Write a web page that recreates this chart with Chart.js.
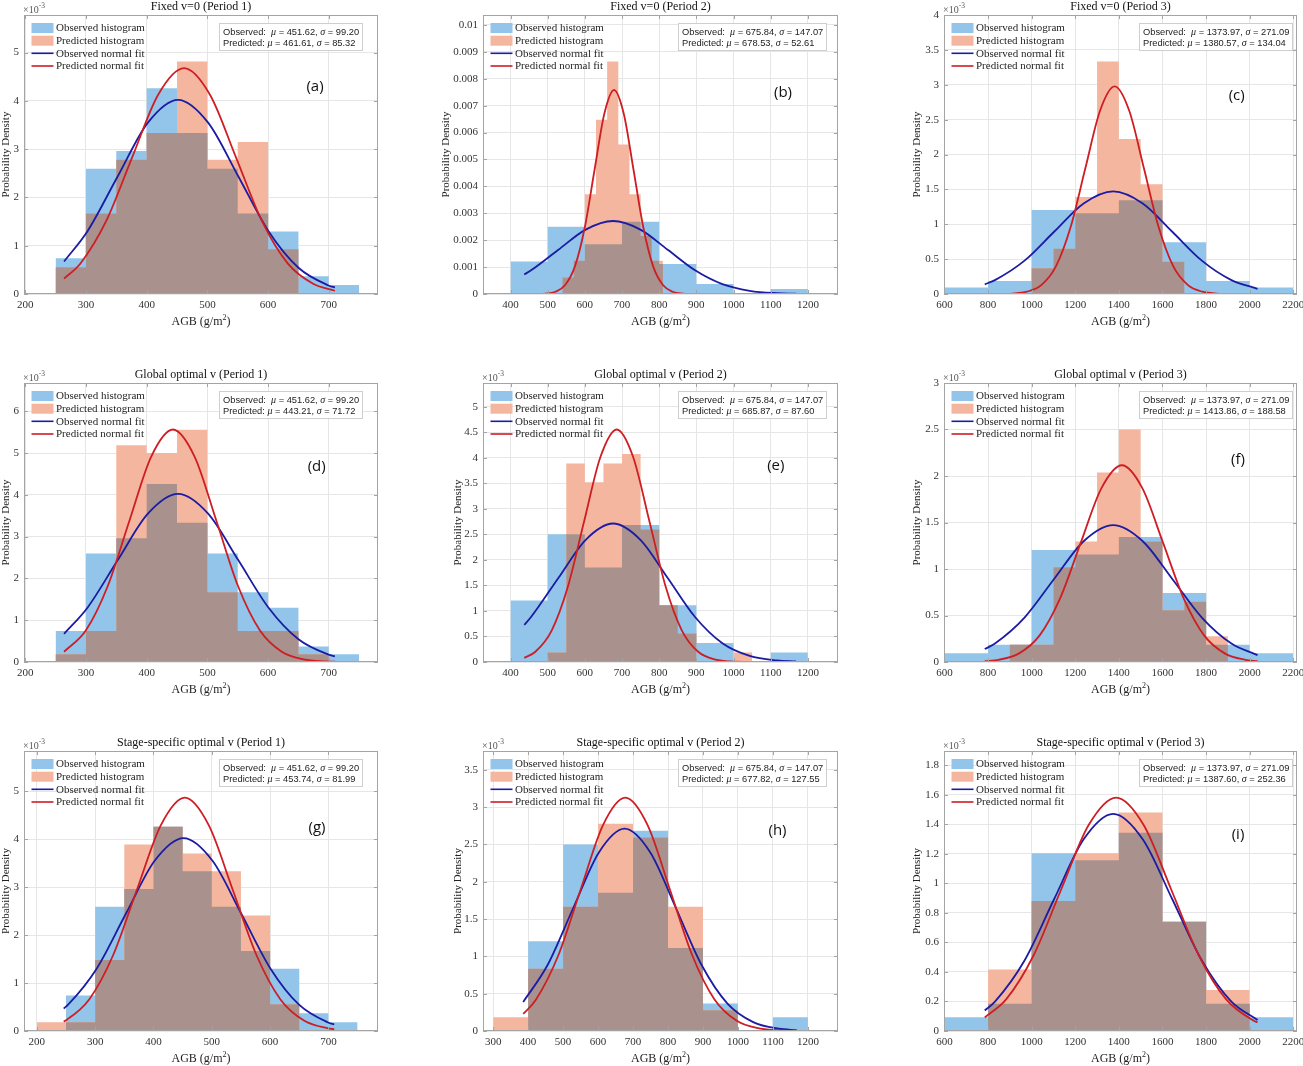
<!DOCTYPE html>
<html><head><meta charset="utf-8">
<script src="https://cdn.jsdelivr.net/npm/chart.js@4.4.0/dist/chart.umd.min.js"></script>
<style>
html,body{margin:0;padding:0;background:#fff;}
#wrap{position:relative;width:1303px;height:1066px;overflow:hidden;background:#fff;}
canvas{position:absolute;}
</style></head><body><div id="wrap"></div>
<script>
// ================= DATA =================
const schemeTitles = ['Fixed v=0', 'Global optimal v', 'Stage-specific optimal v'];
const periodNames = ['Period 1', 'Period 2', 'Period 3'];
const panelLetters = ['(a)', '(b)', '(c)', '(d)', '(e)', '(f)', '(g)', '(h)', '(i)'];
const legendLabels = ['Observed histogram', 'Predicted histogram', 'Observed normal fit', 'Predicted normal fit'];

// Observed histograms (probability density, x10^-3)
const obsEdgesP1 = [250, 300, 350, 400, 450, 500, 550, 600, 650, 700, 750];
const obsDensP1  = [0.741, 2.593, 2.963, 4.259, 3.333, 2.593, 1.667, 1.296, 0.370, 0.185];
const obsEdgesP2 = [400, 500, 600, 700, 800, 900, 1000, 1100, 1200];
const obsDensP2  = [1.204, 2.500, 1.852, 2.685, 1.111, 0.370, 0, 0.185];
const obsEdgesP3 = [600, 800, 1000, 1200, 1400, 1600, 1800, 2000, 2200];
const obsDensP3  = [0.093, 0.185, 1.204, 1.157, 1.343, 0.741, 0.185, 0.093];

// Predicted histograms (x10^-3)
const predEdgesA = [250, 300, 350, 400, 450, 500, 550, 600, 650];
const predDensA  = [0.556, 1.667, 2.778, 3.333, 4.815, 2.778, 3.148, 0.926];
const predEdgesB = [540, 570, 600, 630, 660, 690, 720, 750, 780, 810];
const predDensB  = [0.617, 1.235, 3.704, 6.481, 8.642, 5.556, 3.704, 2.160, 1.235];
const predEdgesC = [1000, 1100, 1200, 1300, 1400, 1500, 1600, 1700];
const predDensC  = [0.370, 0.648, 1.389, 3.333, 2.222, 1.574, 0.463];
const predEdgesD = [250, 300, 350, 400, 450, 500, 550, 600, 650, 700];
const predDensD  = [0.185, 0.741, 5.185, 5.000, 5.556, 1.667, 0.741, 0.741, 0.185];
const predEdgesE = [500, 550, 600, 650, 700, 750, 800, 850, 900, 950, 1000, 1050];
const predDensE  = [0.185, 3.889, 3.519, 3.889, 4.074, 2.593, 1.111, 0.556, 0, 0, 0.185];
const predEdgesF = [900, 1000, 1100, 1200, 1300, 1400, 1500, 1600, 1700, 1800, 1900];
const predDensF  = [0.185, 0.185, 1.019, 1.296, 2.037, 2.500, 1.296, 0.556, 0.648, 0.278];
const predEdgesG = [200, 250, 300, 350, 400, 450, 500, 550, 600, 650];
const predDensG  = [0.185, 0.185, 1.481, 3.889, 4.259, 3.704, 3.333, 2.407, 0.556];
const predEdgesH = [300, 400, 500, 600, 700, 800, 900, 1000];
const predDensH  = [0.185, 0.833, 1.667, 2.778, 2.593, 1.667, 0.278];
const predEdgesI = [800, 1000, 1200, 1400, 1600, 1800, 2000];
const predDensI  = [0.417, 0.880, 1.204, 1.481, 0.741, 0.278];

// Normal-fit curves read as [AGB, density x10^-3]
const fitObsAD = [[264,0.6725],[302.82,1.3056],[352.42,2.4392],[402.02,3.5490],[451.62,4.0216],[501.22,3.5490],[550.82,2.4392],[600.42,1.3056],[650.02,0.5443],[699.62,0.1767],[710,0.1353]];
const fitObsG  = [[246,0.4694],[253.22,0.5443],[302.82,1.3056],[352.42,2.4392],[402.02,3.5490],[451.62,4.0216],[501.22,3.5490],[550.82,2.4392],[600.42,1.3056],[650.02,0.5443],[699.62,0.1767],[710,0.1353]];
const fitPredA = [[264,0.3199],[290.97,0.6328],[333.63,1.5180],[376.29,2.8360],[418.95,4.1264],[461.61,4.6759],[504.27,4.1264],[546.93,2.8360],[589.59,1.5180],[632.25,0.6328],[674.91,0.2054],[710,0.0675]];
const fitPredD = [[264,0.2452],[299.77,0.7528],[335.63,1.8059],[371.49,3.3738],[407.35,4.9089],[443.21,5.5625],[479.07,4.9089],[514.93,3.3738],[550.79,1.8059],[586.65,0.7528],[622.51,0.2444],[658.37,0.0618],[694.23,0.0122],[710,0.0055]];
const fitPredG = [[246,0.1964],[248.77,0.2138],[289.76,0.6585],[330.76,1.5797],[371.75,2.9512],[412.75,4.2940],[453.74,4.8658],[494.74,4.2940],[535.73,2.9512],[576.73,1.5797],[617.72,0.6585],[658.72,0.2138],[699.71,0.0541],[710,0.0368]];
const fitObsBE = [[437,0.7256],[455.24,0.8807],[528.77,1.6453],[602.31,2.3939],[675.84,2.7126],[749.38,2.3939],[822.91,1.6453],[896.45,0.8807],[969.98,0.3671],[1043.52,0.1192],[1117.05,0.0301],[1168,0.0100]];
const fitObsH  = [[386,0.3891],[455.24,0.8807],[528.77,1.6453],[602.31,2.3939],[675.84,2.7126],[749.38,2.3939],[822.91,1.6453],[896.45,0.8807],[969.98,0.3671],[1043.52,0.1192],[1117.05,0.0301],[1168,0.0100]];
const fitPredB = [[437,0.0002],[468.09,0.0025],[494.40,0.0166],[520.70,0.0842],[547.01,0.3332],[573.31,1.0263],[599.62,2.4618],[625.92,4.5993],[652.23,6.6920],[678.53,7.5830],[704.84,6.6920],[731.14,4.5993],[757.45,2.4618],[783.75,1.0263],[810.06,0.3332],[836.36,0.0842],[862.67,0.0166],[888.97,0.0025],[915.28,0.0003],[1168,0]];
const fitPredE = [[437,0.0805],[466.87,0.2001],[510.67,0.6163],[554.47,1.4785],[598.27,2.7622],[642.07,4.0190],[685.87,4.5541],[729.67,4.0190],[773.47,2.7622],[817.27,1.4785],[861.07,0.6163],[904.87,0.2001],[948.67,0.0506],[992.47,0.0100],[1036.27,0.0015],[1080.07,0.0002],[1168,0]];
const fitPredH = [[386,0.2284],[422.72,0.4233],[486.50,1.0154],[550.27,1.8971],[614.05,2.7602],[677.82,3.1277],[741.60,2.7602],[805.37,1.8971],[869.15,1.0154],[932.92,0.4233],[996.70,0.1374],[1060.47,0.0348],[1124.25,0.0068],[1168,0.0019]];
const fitObsCFI = [[785,0.1389],[831.79,0.1992],[967.34,0.4778],[1102.88,0.8926],[1238.43,1.2987],[1373.97,1.4716],[1509.52,1.2987],[1645.06,0.8926],[1780.61,0.4778],[1916.15,0.1992],[2036,0.0746]];
const fitPredC = [[785,0.0002],[844.41,0.0010],[911.43,0.0065],[978.45,0.0331],[1045.47,0.1308],[1112.49,0.4028],[1179.51,0.9663],[1246.53,1.8052],[1313.55,2.6266],[1380.57,2.9763],[1447.59,2.6266],[1514.61,1.8052],[1581.63,0.9663],[1648.65,0.4028],[1715.67,0.1308],[1782.69,0.0331],[1849.71,0.0065],[1916.73,0.0010],[1983.75,0.0001],[2036,0]];
const fitPredF = [[785,0.0081],[848.12,0.0235],[942.41,0.0929],[1036.70,0.2863],[1130.99,0.6868],[1225.28,1.2831],[1319.57,1.8669],[1413.86,2.1155],[1508.15,1.8669],[1602.44,1.2831],[1696.73,0.6868],[1791.02,0.2863],[1885.31,0.0929],[1979.60,0.0235],[2036,0.0092]];
const fitPredI = [[785,0.0914],[882.88,0.2139],[1009.06,0.5132],[1135.24,0.9588],[1261.42,1.3951],[1387.60,1.5808],[1513.78,1.3951],[1639.96,0.9588],[1766.14,0.5132],[1892.32,0.2139],[2018.50,0.0695],[2036,0.0583]];

// Statistics shown in the text boxes
const obsMu    = [451.62, 675.84, 1373.97];
const obsSigma = [99.20, 147.07, 271.09];
const predMu    = [461.61, 678.53, 1380.57, 443.21, 685.87, 1413.86, 453.74, 677.82, 1387.60];
const predSigma = [85.32, 52.61, 134.04, 71.72, 87.60, 188.58, 81.99, 127.55, 252.36];

// Axis limits and tick labels
const xLimits = [[198,781],[326,1281],[598,2217],[198,781],[326,1281],[598,2217],[178,785],[271,1286],[598,2217]];
const yLimits = [5.778, 10.37, 4.0, 6.675, 5.465, 3.0, 5.839, 3.753, 1.897];
const xTicksP1 = [200, 300, 400, 500, 600, 700];
const xTicksP2 = [400, 500, 600, 700, 800, 900, 1000, 1100, 1200];
const xTicksH  = [300, 400, 500, 600, 700, 800, 900, 1000, 1100, 1200];
const xTicksP3 = [600, 800, 1000, 1200, 1400, 1600, 1800, 2000, 2200];
const ySteps = [1, 1, 0.5, 1, 0.5, 0.5, 1, 0.5, 0.2];

// ================= LAYOUT / STYLE =================
const colL = [24, 483, 944], colR = [378, 838, 1297];
const rowT = [15, 383, 751], rowB = [294, 662, 1031];
const yLabelOff = [18, 36.6, 27, 18, 25, 27, 18, 25, 27];
const letterPos = [[291,71.5],[300,77.5],[292.7,80.8],[292.7,83.7],[292.8,82.8],[294,77],[293,77],[294.5,79.5],[294,83.5]];
const SERIF = '"Liberation Serif", "Times New Roman", serif';
const SANS = '"Liberation Sans", Arial, sans-serif';
const C_OBS = 'rgb(146,197,233)';
const C_PRED = 'rgb(244,182,158)';
const C_BOTH = 'rgb(169,146,141)';
const C_OBSFIT = '#1b1ba3';
const C_PREDFIT = '#cf1d24';
const C_AXIS = '#a4a4a4';

const obsSets = [[obsEdgesP1, obsDensP1], [obsEdgesP2, obsDensP2], [obsEdgesP3, obsDensP3]];
const predSets = [[predEdgesA, predDensA], [predEdgesB, predDensB], [predEdgesC, predDensC],
                  [predEdgesD, predDensD], [predEdgesE, predDensE], [predEdgesF, predDensF],
                  [predEdgesG, predDensG], [predEdgesH, predDensH], [predEdgesI, predDensI]];
const obsFits = [fitObsAD, fitObsBE, fitObsCFI, fitObsAD, fitObsBE, fitObsCFI, fitObsG, fitObsH, fitObsCFI];
const predFits = [fitPredA, fitPredB, fitPredC, fitPredD, fitPredE, fitPredF, fitPredG, fitPredH, fitPredI];
const xTickSets = [xTicksP1, xTicksP2, xTicksP3, xTicksP1, xTicksP2, xTicksP3, xTicksP1, xTicksH, xTicksP3];

function histPoints(edges, dens) {
  const pts = [{x: edges[0], y: 0}];
  dens.forEach((d, i) => pts.push({x: edges[i], y: d}));
  pts.push({x: edges[edges.length - 1], y: 0});
  return pts;
}
function valAt(edges, dens, x) {
  for (let i = 0; i < dens.length; i++) if (x >= edges[i] && x < edges[i + 1]) return dens[i];
  return 0;
}
function overlapPoints(oE, oD, pE, pD) {
  const u = Array.from(new Set(oE.concat(pE))).sort((a, b) => a - b);
  const dens = [];
  for (let j = 0; j < u.length - 1; j++) {
    const m = (u[j] + u[j + 1]) / 2;
    dens.push(Math.min(valAt(oE, oD, m), valAt(pE, pD, m)));
  }
  return histPoints(u, dens);
}
const toXY = arr => arr.map(p => ({x: p[0], y: p[1]}));

function drawRuns(ctx, x, y, parts, align) {
  let total = 0;
  parts.forEach(p => { ctx.font = p.f; p.w = ctx.measureText(p.t).width; total += p.w; });
  let cx = align === 'center' ? x - total / 2 : x;
  parts.forEach(p => { ctx.font = p.f; ctx.fillText(p.t, cx, y + (p.dy || 0)); cx += p.w; });
  return total;
}

const decor = {
  id: 'panelDecor',
  afterDraw(chart) {
    const o = chart.options.plugins.panelDecor;
    const ctx = chart.ctx, ca = chart.chartArea;
    const xs = chart.scales.x, ys = chart.scales.y;
    const L = Math.round(ca.left), T = Math.round(ca.top), R = Math.round(ca.right), B = Math.round(ca.bottom);
    ctx.save();
    // axes box
    ctx.strokeStyle = C_AXIS; ctx.lineWidth = 1;
    ctx.strokeRect(L + 0.5, T + 0.5, R - L - 1, B - T - 1);
    // inward tick marks
    ctx.beginPath();
    xs.ticks.forEach(t => { const px = Math.round(xs.getPixelForValue(t.value)) + 0.5;
      ctx.moveTo(px, B); ctx.lineTo(px, B - 4); ctx.moveTo(px, T); ctx.lineTo(px, T + 4); });
    ys.ticks.forEach(t => { const py = Math.round(ys.getPixelForValue(t.value)) + 0.5;
      ctx.moveTo(L, py); ctx.lineTo(L + 4, py); ctx.moveTo(R, py); ctx.lineTo(R - 4, py); });
    ctx.stroke();

    // legend
    const lx = L + 7.5, rowsY = [13, 25.7, 38.3, 51];
    ctx.textBaseline = 'middle'; ctx.textAlign = 'left';
    rowsY.forEach((dy, i) => {
      const yy = T + dy;
      if (i === 0 || i === 1) { ctx.fillStyle = i === 0 ? C_OBS : C_PRED; ctx.fillRect(lx, yy - 5, 22, 10); }
      else { ctx.strokeStyle = i === 2 ? C_OBSFIT : C_PREDFIT; ctx.lineWidth = 1.6;
        ctx.beginPath(); ctx.moveTo(lx, yy); ctx.lineTo(lx + 22, yy); ctx.stroke(); }
      ctx.fillStyle = '#1e1e1e'; ctx.font = '11px ' + SERIF;
      ctx.fillText(legendLabels[i], lx + 24.5, yy + 0.5);
    });

    // stats box
    const fS = '9.3px ' + SANS, fG = 'italic 10px ' + SERIF;
    const lines = [
      [{t: 'Observed:  ', f: fS}, {t: 'μ', f: fG}, {t: ' = ' + o.om.toFixed(2) + ', ', f: fS}, {t: 'σ', f: fG}, {t: ' = ' + o.os.toFixed(2), f: fS}],
      [{t: 'Predicted: ', f: fS}, {t: 'μ', f: fG}, {t: ' = ' + o.pm.toFixed(2) + ', ', f: fS}, {t: 'σ', f: fG}, {t: ' = ' + o.ps.toFixed(2), f: fS}]
    ];
    let maxW = 0;
    lines.forEach(parts => { let w = 0; parts.forEach(p => { ctx.font = p.f; w += ctx.measureText(p.t).width; }); maxW = Math.max(maxW, w); });
    const sx = L + 195.5, sy = T + 8.5, sw = Math.round(maxW + 7), sh = 27;
    ctx.fillStyle = '#ffffff'; ctx.fillRect(sx, sy, sw, sh);
    ctx.strokeStyle = '#cfcfcf'; ctx.lineWidth = 1; ctx.strokeRect(sx, sy, sw, sh);
    ctx.fillStyle = '#222'; ctx.textBaseline = 'middle';
    drawRuns(ctx, sx + 3.5, sy + 8.5, lines[0], 'left');
    drawRuns(ctx, sx + 3.5, sy + 19.5, lines[1], 'left');

    // title
    const cxm = (L + R) / 2;
    ctx.fillStyle = '#111'; ctx.textAlign = 'left'; ctx.textBaseline = 'middle';
    drawRuns(ctx, cxm, T - 8.5, [{t: o.title, f: '12px ' + SERIF}], 'center');
    // x label with superscript
    ctx.fillStyle = '#222';
    drawRuns(ctx, cxm, B + 27.5, [{t: 'AGB (g/m', f: '12px ' + SERIF}, {t: '2', f: '8px ' + SERIF, dy: -4}, {t: ')', f: '12px ' + SERIF}], 'center');
    // y label
    ctx.save();
    ctx.translate(L - o.ylOff, (T + B) / 2); ctx.rotate(-Math.PI / 2);
    ctx.textAlign = 'center'; ctx.textBaseline = 'middle'; ctx.font = '11px ' + SERIF; ctx.fillStyle = '#222';
    ctx.fillText('Probability Density', 0, 0);
    ctx.restore();
    // exponent
    if (o.exp) {
      ctx.fillStyle = '#555'; ctx.textBaseline = 'alphabetic'; ctx.textAlign = 'left';
      drawRuns(ctx, L - 1, T - 2.5, [{t: '×10', f: '10px ' + SERIF}, {t: '-3', f: '7.5px ' + SERIF, dy: -5}], 'left');
    }
    // panel letter
    ctx.fillStyle = '#111'; ctx.textAlign = 'center'; ctx.textBaseline = 'middle';
    ctx.font = '15px "Open Sans", "DejaVu Sans", sans-serif';
    ctx.fillText(o.letter, L + o.lp[0], T + o.lp[1]);
    ctx.restore();
  }
};

const wrap = document.getElementById('wrap');
for (let i = 0; i < 9; i++) {
  const r = Math.floor(i / 3), c = i % 3;
  const boxL = colL[c], boxR = colR[c], boxT = rowT[r], boxB = rowB[r];
  const padL = 50, padR = 6, padT = 15, padB = 35;
  const W = boxR - boxL + padL + padR, H = boxB - boxT + padT + padB;
  const cv = document.createElement('canvas');
  cv.width = W; cv.height = H;
  cv.style.left = (boxL - padL) + 'px'; cv.style.top = (boxT - padT) + 'px';
  cv.style.width = W + 'px'; cv.style.height = H + 'px';
  wrap.appendChild(cv);

  const [oE, oD] = obsSets[c];
  const [pE, pD] = predSets[i];
  const fo = obsFits[i], fp = predFits[i];
  const isB = (i === 1);
  const xt = xTickSets[i];

  const fillDs = (data, color, order) => ({data, order, fill: 'origin', backgroundColor: color,
    borderColor: 'rgba(0,0,0,0)', borderWidth: 0, pointRadius: 0, stepped: true, tension: 0});
  const lineDs = (data, color, order) => ({data: toXY(data), order, fill: false, borderColor: color,
    borderWidth: 1.8, pointRadius: 0, cubicInterpolationMode: 'monotone'});

  new Chart(cv, {
    type: 'line',
    data: {datasets: [
      fillDs(histPoints(oE, oD), C_OBS, 5),
      fillDs(histPoints(pE, pD), C_PRED, 4),
      fillDs(overlapPoints(oE, oD, pE, pD), C_BOTH, 3),
      lineDs(fo, C_OBSFIT, 2),
      lineDs(fp, C_PREDFIT, 1)
    ]},
    plugins: [decor],
    options: {
      responsive: false, animation: false, events: [],
      layout: {padding: {left: 0, right: padR, top: padT, bottom: 0}},
      plugins: {
        legend: {display: false}, tooltip: {enabled: false}, title: {display: false},
        panelDecor: {title: schemeTitles[r] + ' (' + periodNames[c] + ')', letter: panelLetters[i], lp: letterPos[i],
          ylOff: yLabelOff[i], exp: !isB, om: obsMu[c], os: obsSigma[c], pm: predMu[i], ps: predSigma[i]}
      },
      scales: {
        x: {type: 'linear', min: xLimits[i][0], max: xLimits[i][1],
          afterBuildTicks(s) { s.ticks = xt.map(v => ({value: v})); },
          afterFit(s) { s.height = padB; s.paddingLeft = 0; s.paddingRight = 0; },
          grid: {color: '#e6e6e6', drawTicks: false, lineWidth: 1}, border: {display: false},
          ticks: {padding: 5, color: '#333', autoSkip: false, maxRotation: 0,
            font: {family: SERIF, size: 11}, callback: v => String(v)}},
        y: {type: 'linear', min: 0, max: yLimits[i],
          afterFit(s) { s.width = padL; s.paddingTop = 0; s.paddingBottom = 0; },
          grid: {color: '#e6e6e6', drawTicks: false, lineWidth: 1}, border: {display: false},
          ticks: {stepSize: ySteps[i], includeBounds: false, padding: 5, color: '#333', autoSkip: false,
            font: {family: SERIF, size: 11},
            callback: v => isB ? (v === 0 ? '0' : String(+(v / 1000).toFixed(4))) : String(+v.toFixed(2))}}
      }
    }
  });
}
</script></body></html>
